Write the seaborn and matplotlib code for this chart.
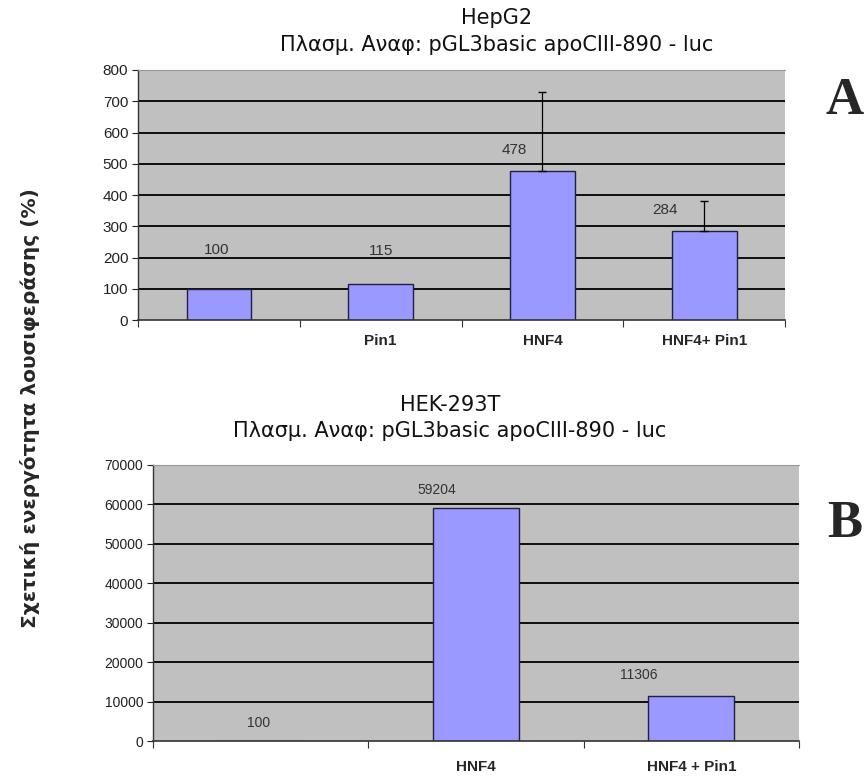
import matplotlib
matplotlib.use("Agg")
import matplotlib.pyplot as plt
import seaborn as sns
import numpy as np

# data
top_labels = ["", "Pin1", "HNF4", "HNF4+ Pin1"]
top_values = [100, 115, 478, 284]
top_err = [0, 0, 252, 97]

bot_labels = ["", "HNF4", "HNF4 + Pin1"]
bot_values = [100, 59204, 11306]

sns.set_style("white")
plt.rcParams['font.family'] = ['Liberation Sans', 'DejaVu Sans']

bar_col = "#9999ff"
bg = "#c0c0c0"

fig = plt.figure(figsize=(8.66, 7.76), dpi=100)
ax1 = fig.add_axes([0.1594, 0.5876, 0.7471, 0.3222])
ax2 = fig.add_axes([0.1767, 0.0451, 0.746, 0.3557])


def style_axis(ax, n, ymax, step, tick_fs, xpad):
    ax.set_facecolor(bg)
    ax.set_xlim(-0.5, n - 0.5)
    ax.set_ylim(0, ymax)
    ax.set_yticks(np.arange(0, ymax + 1, step))
    for y in np.arange(step, ymax, step):
        ax.axhline(y, color="black", lw=1.3, zorder=0.5)
    ax.spines["top"].set_color("#999999")
    ax.spines["right"].set_visible(False)
    ax.spines["left"].set_color("#333333")
    ax.spines["bottom"].set_color("#333333")
    ax.spines["left"].set_linewidth(1.0)
    ax.spines["bottom"].set_linewidth(1.2)
    ax.tick_params(axis="y", length=4, width=0.8, direction="out", left=True,
                   labelsize=tick_fs, pad=3, colors="#222222")
    # x ticks sit between the categories
    ax.set_xticks(np.arange(-0.5, n, 1.0), minor=True)
    ax.tick_params(axis="x", which="minor", length=5, width=0.8, bottom=True,
                   color="#333333")
    ax.tick_params(axis="x", which="major", length=0, labelsize=11, pad=xpad)
    for t in ax.get_xticklabels():
        t.set_fontweight("bold")
    ax.set_xlabel("")
    ax.set_ylabel("")


# --- top chart: HepG2
sns.barplot(x=top_labels, y=top_values, ax=ax1, color=bar_col, width=0.40,
            saturation=1, edgecolor="#202040", linewidth=1.0, zorder=2)
idx = [i for i, e in enumerate(top_err) if e > 0]
ax1.errorbar(idx, [top_values[i] for i in idx],
             yerr=[[0] * len(idx), [top_err[i] for i in idx]], fmt="none",
             ecolor="black", elinewidth=0.9, capsize=3, zorder=3)
style_axis(ax1, len(top_labels), 800, 100, 11, 10)
top_off = [(-2, 39), (0, 33), (-28, 21), (-39, 21)]
for i, v in enumerate(top_values):
    ax1.annotate(str(v), (i, v), xytext=top_off[i], textcoords="offset pixels",
                 ha="center", va="center", fontsize=11, color="#333333")

# --- bottom chart: HEK-293T
sns.barplot(x=bot_labels, y=bot_values, ax=ax2, color=bar_col, width=0.40,
            saturation=1, edgecolor="#202040", linewidth=1.0, zorder=2)
style_axis(ax2, len(bot_labels), 70000, 10000, 10, 14)
bot_off = [(-2, 18), (-39, 18), (-53, 21)]
for i, v in enumerate(bot_values):
    ax2.annotate(str(v), (i, v), xytext=bot_off[i], textcoords="offset pixels",
                 ha="center", va="center", fontsize=10, color="#333333")

# titles
title_font = dict(fontsize=15, ha="center", va="center",
                  family=["DejaVu Sans"], color="#111111")
fig.text(497 / 866, 1 - 18 / 776, "HepG2", **title_font)
fig.text(497 / 866, 1 - 45 / 776, "Πλασμ. Αναφ: pGL3basic apoCIII-890 - luc",
         **title_font)
fig.text(450 / 866, 1 - 405 / 776, "HEK-293T", **title_font)
fig.text(450 / 866, 1 - 431 / 776, "Πλασμ. Αναφ: pGL3basic apoCIII-890 - luc",
         **title_font)

# shared y label and panel letters
fig.text(0.035, 1 - 408 / 776, "Σχετική ενεργότητα λουσιφεράσης (%)",
         rotation=90, ha="center", va="center", fontsize=14.5,
         fontweight="bold", family=["DejaVu Sans"])
fig.text(0.975, 0.87, "A", ha="center", va="center", fontsize=38,
         fontweight="bold", family=["Liberation Serif", "DejaVu Serif"])
fig.text(0.975, 0.325, "B", ha="center", va="center", fontsize=38,
         fontweight="bold", family=["Liberation Serif", "DejaVu Serif"])

fig.savefig("out.png", dpi=100, facecolor="white")
